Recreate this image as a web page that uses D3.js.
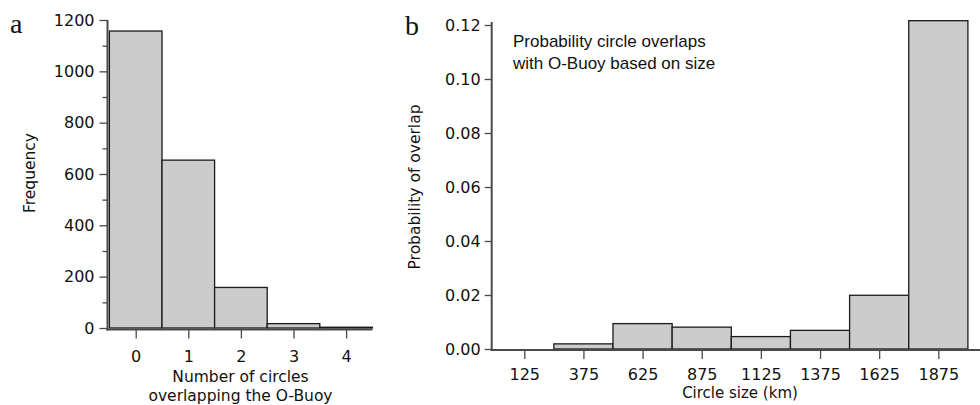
<!DOCTYPE html>
<html>
<head>
<meta charset="utf-8">
<script src="https://cdn.jsdelivr.net/npm/d3@7"></script>
<style>
  html, body { margin: 0; padding: 0; background: #fff; }
  svg { display: block; }
  .tick text { font-family: "DejaVu Sans", sans-serif; font-size: 16px; fill: #111; }
  .title { font-family: "DejaVu Sans", sans-serif; font-size: 15.5px; fill: #111; }
  .panel { font-family: "Liberation Serif", serif; font-size: 28px; fill: #111; }
  .note { font-family: "Liberation Sans", Arial, sans-serif; font-size: 17px; fill: #111; }
</style>
</head>
<body>
<script>
// Panel a: how many circles overlap the O-Buoy
const countBins = [0, 1, 2, 3, 4];
const countFreq = [1157, 654, 158, 17, 3];
const countTicksY = [0, 200, 400, 600, 800, 1000, 1200];
const countMinorY = [100, 300, 500, 700, 900, 1100];

// Panel b: overlap probability by circle size (bin centres, km)
const sizeBins = [125, 375, 625, 875, 1125, 1375, 1625, 1875];
const overlapProb = [0, 0.0019, 0.0094, 0.0081, 0.0046, 0.0069, 0.0199, 0.1216];
const probTicksY = [0, 0.02, 0.04, 0.06, 0.08, 0.10, 0.12];
const sizeBinWidth = 250;

const W = 980, H = 405;
const svg = d3.select("body").append("svg").attr("width", W).attr("height", H);

const axisColor = "#4a4a4a";
const barFill = "#cccccc";
const barStroke = "#1a1a1a";

function styleAxis(g) {
  g.select(".domain").remove();
  g.selectAll(".tick line").attr("stroke", axisColor).attr("stroke-width", 1.3);
}

// ---------- Panel a ----------
{
  const x = d3.scaleLinear().domain([-0.5, 4.5]).range([109.4, 372.4]);
  const y = d3.scaleLinear().domain([0, 1200]).range([328, 20]);
  const axisX = 107.5, axisY = 329.5;
  const g = svg.append("g");

  g.selectAll("rect.bar").data(countBins).join("rect")
    .attr("class", "bar")
    .attr("x", d => x(d - 0.5))
    .attr("width", d => x(d + 0.5) - x(d - 0.5))
    .attr("y", (d, i) => y(countFreq[i]))
    .attr("height", (d, i) => y(0) - y(countFreq[i]))
    .attr("fill", barFill).attr("stroke", barStroke).attr("stroke-width", 1.3);

  // y axis
  const ya = g.append("g").attr("transform", `translate(${axisX},0)`)
    .call(d3.axisLeft(y).tickValues(countTicksY).tickSize(8).tickPadding(5).tickFormat(d3.format("d")));
  styleAxis(ya);
  g.append("g").attr("transform", `translate(${axisX},0)`)
    .call(d3.axisLeft(y).tickValues(countMinorY).tickSize(5).tickFormat(""))
    .call(styleAxis);
  g.append("line").attr("x1", axisX).attr("x2", axisX).attr("y1", y(1200)).attr("y2", axisY + 1)
    .attr("stroke", axisColor).attr("stroke-width", 2);

  // x axis
  const xa = g.append("g").attr("transform", `translate(0,${axisY})`)
    .call(d3.axisBottom(x).tickValues(countBins).tickSize(9).tickPadding(12).tickFormat(d3.format("d")));
  styleAxis(xa);
  g.append("line").attr("x1", axisX - 1).attr("x2", x(4.5)).attr("y1", axisY).attr("y2", axisY)
    .attr("stroke", axisColor).attr("stroke-width", 2);

  g.append("text").attr("class", "title").attr("text-anchor", "middle")
    .attr("transform", `translate(35,173) rotate(-90)`).text("Frequency");
  g.append("text").attr("class", "title").attr("text-anchor", "middle")
    .attr("x", 240.5).attr("y", 381.5).text("Number of circles");
  g.append("text").attr("class", "title").attr("text-anchor", "middle")
    .attr("x", 240.5).attr("y", 400.5).text("overlapping the O-Buoy");

  g.append("text").attr("class", "panel").attr("x", 10).attr("y", 33).text("a");
}

// ---------- Panel b ----------
{
  const x = d3.scaleLinear().domain([0, 2000]).range([494.7, 967.9]);
  const y = d3.scaleLinear().domain([0, 0.12]).range([349, 25]);
  const axisX = 491.7, axisY = 350;
  const g = svg.append("g");

  g.selectAll("rect.bar").data(sizeBins).join("rect")
    .attr("class", "bar")
    .attr("x", d => x(d - sizeBinWidth / 2))
    .attr("width", d => x(d + sizeBinWidth / 2) - x(d - sizeBinWidth / 2))
    .attr("y", (d, i) => y(overlapProb[i]))
    .attr("height", (d, i) => y(0) - y(overlapProb[i]))
    .attr("fill", barFill).attr("stroke", barStroke).attr("stroke-width", 1.3);

  const ya = g.append("g").attr("transform", `translate(${axisX},0)`)
    .call(d3.axisLeft(y).tickValues(probTicksY).tickSize(7).tickPadding(4).tickFormat(d3.format(".2f")));
  styleAxis(ya);
  g.append("line").attr("x1", axisX).attr("x2", axisX).attr("y1", y(0.12) - 3).attr("y2", axisY + 1)
    .attr("stroke", axisColor).attr("stroke-width", 2);

  const xa = g.append("g").attr("transform", `translate(0,${axisY})`)
    .call(d3.axisBottom(x).tickValues(sizeBins).tickSize(9).tickPadding(10).tickFormat(d3.format("d")));
  styleAxis(xa);
  g.append("line").attr("x1", axisX - 1).attr("x2", W).attr("y1", axisY).attr("y2", axisY)
    .attr("stroke", axisColor).attr("stroke-width", 2);

  g.append("text").attr("class", "title").attr("text-anchor", "middle")
    .attr("transform", `translate(420,187) rotate(-90)`).text("Probability of overlap");
  g.append("text").attr("class", "title").attr("text-anchor", "middle")
    .style("font-size", "15px")
    .attr("x", 740).attr("y", 398).text("Circle size (km)");

  g.append("text").attr("class", "note").attr("x", 513).attr("y", 47).text("Probability circle overlaps");
  g.append("text").attr("class", "note").attr("x", 513).attr("y", 68.5).text("with O-Buoy based on size");

  g.append("text").attr("class", "panel").attr("x", 405).attr("y", 35).text("b");
}
</script>
</body>
</html>
